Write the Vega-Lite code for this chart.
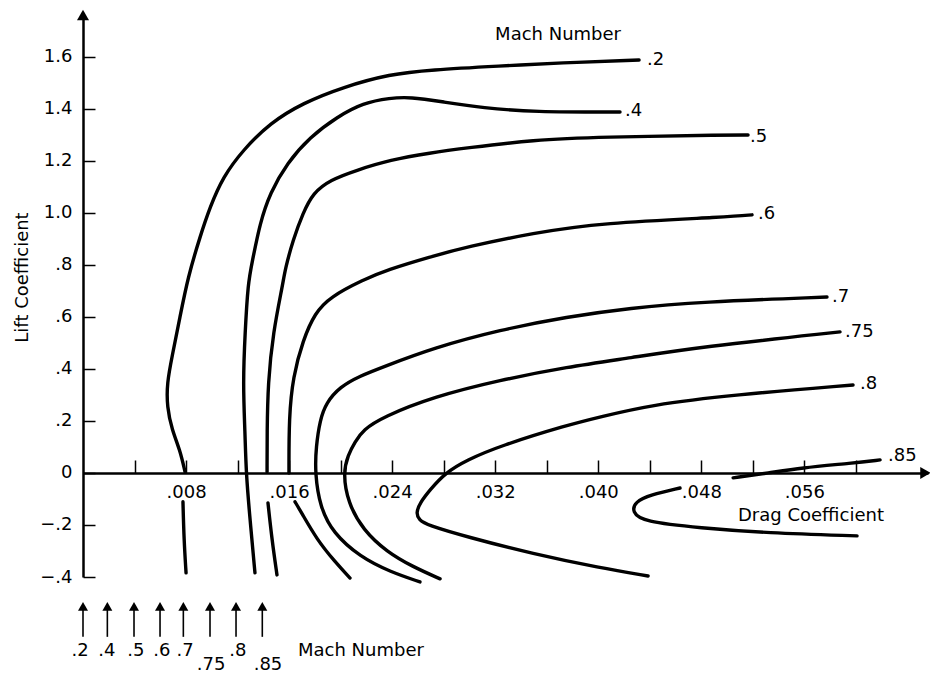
{
  "$schema": "https://vega.github.io/schema/vega-lite/v6.json",
  "width": 845,
  "height": 562,
  "autosize": {"type": "none"},
  "padding": {"left": 83, "top": 15, "right": 2, "bottom": 100},
  "background": "white",
  "config": {
    "view": {"stroke": null},
    "axis": {
      "grid": false,
      "domainColor": "black",
      "domainWidth": 2.5,
      "tickColor": "black",
      "tickWidth": 1.5,
      "labelColor": "black",
      "labelFont": "DejaVu Sans",
      "labelFontSize": 18,
      "labelOverlap": false,
      "labelFlush": false,
      "labelBound": false
    }
  },
  "datasets": {
    "curves": [
      {"curve": "0.2 upper", "i": 0, "drag": 0.00792, "lift": 0.004},
      {"curve": "0.2 upper", "i": 1, "drag": 0.00753, "lift": 0.088},
      {"curve": "0.2 upper", "i": 2, "drag": 0.00691, "lift": 0.165},
      {"curve": "0.2 upper", "i": 3, "drag": 0.00652, "lift": 0.254},
      {"curve": "0.2 upper", "i": 4, "drag": 0.00652, "lift": 0.346},
      {"curve": "0.2 upper", "i": 5, "drag": 0.00691, "lift": 0.446},
      {"curve": "0.2 upper", "i": 6, "drag": 0.00753, "lift": 0.600},
      {"curve": "0.2 upper", "i": 7, "drag": 0.00815, "lift": 0.753},
      {"curve": "0.2 upper", "i": 8, "drag": 0.00908, "lift": 0.907},
      {"curve": "0.2 upper", "i": 9, "drag": 0.00986, "lift": 1.022},
      {"curve": "0.2 upper", "i": 10, "drag": 0.01087, "lift": 1.138},
      {"curve": "0.2 upper", "i": 11, "drag": 0.01242, "lift": 1.241},
      {"curve": "0.2 upper", "i": 12, "drag": 0.01452, "lift": 1.345},
      {"curve": "0.2 upper", "i": 13, "drag": 0.01708, "lift": 1.422},
      {"curve": "0.2 upper", "i": 14, "drag": 0.02019, "lift": 1.483},
      {"curve": "0.2 upper", "i": 15, "drag": 0.02384, "lift": 1.533},
      {"curve": "0.2 upper", "i": 16, "drag": 0.02694, "lift": 1.549},
      {"curve": "0.2 upper", "i": 17, "drag": 0.03238, "lift": 1.564},
      {"curve": "0.2 upper", "i": 18, "drag": 0.03703, "lift": 1.576},
      {"curve": "0.2 upper", "i": 19, "drag": 0.04317, "lift": 1.587},
      {"curve": "0.2 lower", "i": 0, "drag": 0.00776, "lift": -0.111},
      {"curve": "0.2 lower", "i": 1, "drag": 0.00784, "lift": -0.257},
      {"curve": "0.2 lower", "i": 2, "drag": 0.00800, "lift": -0.384},

      {"curve": "0.4", "i": 0, "drag": 0.01335, "lift": -0.384},
      {"curve": "0.4", "i": 1, "drag": 0.01297, "lift": -0.181},
      {"curve": "0.4", "i": 2, "drag": 0.01266, "lift": 0.0},
      {"curve": "0.4", "i": 3, "drag": 0.01258, "lift": 0.154},
      {"curve": "0.4", "i": 4, "drag": 0.01242, "lift": 0.346},
      {"curve": "0.4", "i": 5, "drag": 0.01258, "lift": 0.538},
      {"curve": "0.4", "i": 6, "drag": 0.01281, "lift": 0.730},
      {"curve": "0.4", "i": 7, "drag": 0.01312, "lift": 0.807},
      {"curve": "0.4", "i": 8, "drag": 0.01374, "lift": 0.961},
      {"curve": "0.4", "i": 9, "drag": 0.01452, "lift": 1.076},
      {"curve": "0.4", "i": 10, "drag": 0.01584, "lift": 1.191},
      {"curve": "0.4", "i": 11, "drag": 0.01762, "lift": 1.291},
      {"curve": "0.4", "i": 12, "drag": 0.01972, "lift": 1.368},
      {"curve": "0.4", "i": 13, "drag": 0.02174, "lift": 1.422},
      {"curve": "0.4", "i": 14, "drag": 0.02384, "lift": 1.441},
      {"curve": "0.4", "i": 15, "drag": 0.02539, "lift": 1.445},
      {"curve": "0.4", "i": 16, "drag": 0.02795, "lift": 1.426},
      {"curve": "0.4", "i": 17, "drag": 0.03106, "lift": 1.403},
      {"curve": "0.4", "i": 18, "drag": 0.03494, "lift": 1.387},
      {"curve": "0.4", "i": 19, "drag": 0.04169, "lift": 1.387},

      {"curve": "0.5 upper", "i": 0, "drag": 0.01429, "lift": 0.004},
      {"curve": "0.5 upper", "i": 1, "drag": 0.01429, "lift": 0.154},
      {"curve": "0.5 upper", "i": 2, "drag": 0.01436, "lift": 0.346},
      {"curve": "0.5 upper", "i": 3, "drag": 0.01475, "lift": 0.538},
      {"curve": "0.5 upper", "i": 4, "drag": 0.01553, "lift": 0.730},
      {"curve": "0.5 upper", "i": 5, "drag": 0.01568, "lift": 0.780},
      {"curve": "0.5 upper", "i": 6, "drag": 0.01630, "lift": 0.895},
      {"curve": "0.5 upper", "i": 7, "drag": 0.01708, "lift": 0.999},
      {"curve": "0.5 upper", "i": 8, "drag": 0.01786, "lift": 1.076},
      {"curve": "0.5 upper", "i": 9, "drag": 0.01918, "lift": 1.126},
      {"curve": "0.5 upper", "i": 10, "drag": 0.02127, "lift": 1.164},
      {"curve": "0.5 upper", "i": 11, "drag": 0.02384, "lift": 1.203},
      {"curve": "0.5 upper", "i": 12, "drag": 0.02694, "lift": 1.230},
      {"curve": "0.5 upper", "i": 13, "drag": 0.02981, "lift": 1.249},
      {"curve": "0.5 upper", "i": 14, "drag": 0.03494, "lift": 1.280},
      {"curve": "0.5 upper", "i": 15, "drag": 0.04014, "lift": 1.291},
      {"curve": "0.5 upper", "i": 16, "drag": 0.05023, "lift": 1.299},
      {"curve": "0.5 upper", "i": 17, "drag": 0.05163, "lift": 1.299},
      {"curve": "0.5 lower", "i": 0, "drag": 0.01436, "lift": -0.115},
      {"curve": "0.5 lower", "i": 1, "drag": 0.01467, "lift": -0.257},
      {"curve": "0.5 lower", "i": 2, "drag": 0.01506, "lift": -0.392},

      {"curve": "0.6 upper", "i": 0, "drag": 0.01599, "lift": 0.0},
      {"curve": "0.6 upper", "i": 1, "drag": 0.01599, "lift": 0.215},
      {"curve": "0.6 upper", "i": 2, "drag": 0.01630, "lift": 0.369},
      {"curve": "0.6 upper", "i": 3, "drag": 0.01708, "lift": 0.511},
      {"curve": "0.6 upper", "i": 4, "drag": 0.01801, "lift": 0.615},
      {"curve": "0.6 upper", "i": 5, "drag": 0.01918, "lift": 0.676},
      {"curve": "0.6 upper", "i": 6, "drag": 0.02174, "lift": 0.742},
      {"curve": "0.6 upper", "i": 7, "drag": 0.02360, "lift": 0.780},
      {"curve": "0.6 upper", "i": 8, "drag": 0.02694, "lift": 0.830},
      {"curve": "0.6 upper", "i": 9, "drag": 0.02981, "lift": 0.869},
      {"curve": "0.6 upper", "i": 10, "drag": 0.03494, "lift": 0.922},
      {"curve": "0.6 upper", "i": 11, "drag": 0.04014, "lift": 0.961},
      {"curve": "0.6 upper", "i": 12, "drag": 0.05023, "lift": 0.984},
      {"curve": "0.6 upper", "i": 13, "drag": 0.05194, "lift": 0.992},
      {"curve": "0.6 lower", "i": 0, "drag": 0.01646, "lift": -0.111},
      {"curve": "0.6 lower", "i": 1, "drag": 0.01693, "lift": -0.150},
      {"curve": "0.6 lower", "i": 2, "drag": 0.01817, "lift": -0.257},
      {"curve": "0.6 lower", "i": 3, "drag": 0.01957, "lift": -0.342},
      {"curve": "0.6 lower", "i": 4, "drag": 0.02073, "lift": -0.404},

      {"curve": "0.7", "i": 0, "drag": 0.02616, "lift": -0.419},
      {"curve": "0.7", "i": 1, "drag": 0.02384, "lift": -0.380},
      {"curve": "0.7", "i": 2, "drag": 0.02151, "lift": -0.323},
      {"curve": "0.7", "i": 3, "drag": 0.01941, "lift": -0.231},
      {"curve": "0.7", "i": 4, "drag": 0.01840, "lift": -0.131},
      {"curve": "0.7", "i": 5, "drag": 0.01801, "lift": 0.0},
      {"curve": "0.7", "i": 6, "drag": 0.01809, "lift": 0.100},
      {"curve": "0.7", "i": 7, "drag": 0.01840, "lift": 0.204},
      {"curve": "0.7", "i": 8, "drag": 0.01887, "lift": 0.269},
      {"curve": "0.7", "i": 9, "drag": 0.01995, "lift": 0.331},
      {"curve": "0.7", "i": 10, "drag": 0.02151, "lift": 0.373},
      {"curve": "0.7", "i": 11, "drag": 0.02329, "lift": 0.407},
      {"curve": "0.7", "i": 12, "drag": 0.02717, "lift": 0.480},
      {"curve": "0.7", "i": 13, "drag": 0.03238, "lift": 0.550},
      {"curve": "0.7", "i": 14, "drag": 0.03758, "lift": 0.600},
      {"curve": "0.7", "i": 15, "drag": 0.04247, "lift": 0.634},
      {"curve": "0.7", "i": 16, "drag": 0.04790, "lift": 0.657},
      {"curve": "0.7", "i": 17, "drag": 0.05776, "lift": 0.676},

      {"curve": "0.75", "i": 0, "drag": 0.02772, "lift": -0.407},
      {"curve": "0.75", "i": 1, "drag": 0.02562, "lift": -0.361},
      {"curve": "0.75", "i": 2, "drag": 0.02360, "lift": -0.304},
      {"curve": "0.75", "i": 3, "drag": 0.02174, "lift": -0.219},
      {"curve": "0.75", "i": 4, "drag": 0.02057, "lift": -0.115},
      {"curve": "0.75", "i": 5, "drag": 0.02019, "lift": 0.0},
      {"curve": "0.75", "i": 6, "drag": 0.02057, "lift": 0.069},
      {"curve": "0.75", "i": 7, "drag": 0.02112, "lift": 0.119},
      {"curve": "0.75", "i": 8, "drag": 0.02174, "lift": 0.165},
      {"curve": "0.75", "i": 9, "drag": 0.02329, "lift": 0.215},
      {"curve": "0.75", "i": 10, "drag": 0.02717, "lift": 0.292},
      {"curve": "0.75", "i": 11, "drag": 0.03238, "lift": 0.357},
      {"curve": "0.75", "i": 12, "drag": 0.03758, "lift": 0.407},
      {"curve": "0.75", "i": 13, "drag": 0.04247, "lift": 0.442},
      {"curve": "0.75", "i": 14, "drag": 0.04790, "lift": 0.484},
      {"curve": "0.75", "i": 15, "drag": 0.05877, "lift": 0.542},

      {"curve": "0.8", "i": 0, "drag": 0.05978, "lift": 0.338},
      {"curve": "0.8", "i": 1, "drag": 0.05047, "lift": 0.300},
      {"curve": "0.8", "i": 2, "drag": 0.04402, "lift": 0.261},
      {"curve": "0.8", "i": 3, "drag": 0.04014, "lift": 0.215},
      {"curve": "0.8", "i": 4, "drag": 0.03758, "lift": 0.184},
      {"curve": "0.8", "i": 5, "drag": 0.03238, "lift": 0.104},
      {"curve": "0.8", "i": 6, "drag": 0.02981, "lift": 0.050},
      {"curve": "0.8", "i": 7, "drag": 0.02811, "lift": 0.0},
      {"curve": "0.8", "i": 8, "drag": 0.02694, "lift": -0.065},
      {"curve": "0.8", "i": 9, "drag": 0.02616, "lift": -0.115},
      {"curve": "0.8", "i": 10, "drag": 0.02585, "lift": -0.154},
      {"curve": "0.8", "i": 11, "drag": 0.02609, "lift": -0.181},
      {"curve": "0.8", "i": 12, "drag": 0.02671, "lift": -0.200},
      {"curve": "0.8", "i": 13, "drag": 0.02981, "lift": -0.246},
      {"curve": "0.8", "i": 14, "drag": 0.03494, "lift": -0.311},
      {"curve": "0.8", "i": 15, "drag": 0.04014, "lift": -0.365},
      {"curve": "0.8", "i": 16, "drag": 0.04387, "lift": -0.396},

      {"curve": "0.85 upper", "i": 0, "drag": 0.05047, "lift": -0.019},
      {"curve": "0.85 upper", "i": 1, "drag": 0.05326, "lift": 0.0},
      {"curve": "0.85 upper", "i": 2, "drag": 0.05567, "lift": 0.019},
      {"curve": "0.85 upper", "i": 3, "drag": 0.05978, "lift": 0.038},
      {"curve": "0.85 upper", "i": 4, "drag": 0.06188, "lift": 0.050},
      {"curve": "0.85 lower", "i": 0, "drag": 0.04635, "lift": -0.058},
      {"curve": "0.85 lower", "i": 1, "drag": 0.04402, "lift": -0.085},
      {"curve": "0.85 lower", "i": 2, "drag": 0.04286, "lift": -0.111},
      {"curve": "0.85 lower", "i": 3, "drag": 0.04262, "lift": -0.150},
      {"curve": "0.85 lower", "i": 4, "drag": 0.04348, "lift": -0.188},
      {"curve": "0.85 lower", "i": 5, "drag": 0.04790, "lift": -0.211},
      {"curve": "0.85 lower", "i": 6, "drag": 0.05311, "lift": -0.231},
      {"curve": "0.85 lower", "i": 7, "drag": 0.06009, "lift": -0.242}
    ],
    "leftLabels": [
      {"text": ".2", "drag": 0.04379, "lift": 1.587},
      {"text": ".4", "drag": 0.04208, "lift": 1.391},
      {"text": ".5", "drag": 0.05179, "lift": 1.291},
      {"text": ".6", "drag": 0.05241, "lift": 0.995},
      {"text": ".7", "drag": 0.05815, "lift": 0.676},
      {"text": ".75", "drag": 0.05916, "lift": 0.542},
      {"text": ".8", "drag": 0.06033, "lift": 0.342},
      {"text": ".85", "drag": 0.06250, "lift": 0.065},
      {"text": "Drag Coefficient", "drag": 0.05085, "lift": -0.167},
      {"text": "Mach Number", "drag": 0.01669, "lift": -0.684}
    ],
    "centerLabels": [
      {"text": "Mach Number", "drag": 0.03688, "lift": 1.685},
      {"text": ".2", "drag": -0.00023, "lift": -0.684},
      {"text": ".4", "drag": 0.00186, "lift": -0.684},
      {"text": ".5", "drag": 0.00411, "lift": -0.684},
      {"text": ".6", "drag": 0.00613, "lift": -0.684},
      {"text": ".7", "drag": 0.00792, "lift": -0.684},
      {"text": ".75", "drag": 0.00994, "lift": -0.738},
      {"text": ".8", "drag": 0.01203, "lift": -0.684},
      {"text": ".85", "drag": 0.01436, "lift": -0.738}
    ],
    "machArrows": [
      {"mach": 0.2, "drag": 0.0, "lift": -0.513, "lift2": -0.630},
      {"mach": 0.4, "drag": 0.00189, "lift": -0.513, "lift2": -0.630},
      {"mach": 0.5, "drag": 0.00396, "lift": -0.513, "lift2": -0.630},
      {"mach": 0.6, "drag": 0.00598, "lift": -0.513, "lift2": -0.630},
      {"mach": 0.7, "drag": 0.00779, "lift": -0.513, "lift2": -0.630},
      {"mach": 0.75, "drag": 0.00986, "lift": -0.513, "lift2": -0.630},
      {"mach": 0.8, "drag": 0.01188, "lift": -0.513, "lift2": -0.630},
      {"mach": 0.85, "drag": 0.01392, "lift": -0.513, "lift2": -0.630}
    ],
    "yAxisEnd": [{"drag": 0.0, "lift": 1.76}],
    "xAxisEnd": [{"drag": 0.0654, "lift": 0.0}]
  },
  "encoding": {
    "x": {
      "field": "drag",
      "type": "quantitative",
      "scale": {"domain": [0, 0.0656], "nice": false, "zero": false},
      "axis": {
        "orient": "bottom",
        "offset": -104,
        "title": null,
        "values": [0.004, 0.008, 0.012, 0.016, 0.020, 0.024, 0.028, 0.032, 0.036, 0.040, 0.044, 0.048, 0.052, 0.056, 0.060],
        "labelExpr": "round(datum.value * 1000) % 8 == 0 ? replace(format(datum.value, '.3f'), '0.', '.') : ''",
        "tickSize": -13,
        "labelPadding": 23
      }
    },
    "y": {
      "field": "lift",
      "type": "quantitative",
      "scale": {"domain": [-0.4, 1.76], "nice": false, "zero": false},
      "axis": {
        "orient": "left",
        "values": [-0.4, -0.2, 0, 0.2, 0.4, 0.6, 0.8, 1.0, 1.2, 1.4, 1.6],
        "labelExpr": "datum.value == 0 ? '0' : replace(replace(format(datum.value, '.1f'), '0.', '.'), '-', '–')",
        "tickSize": -12,
        "labelPadding": 23,
        "title": "Lift Coefficient",
        "titleX": -61,
        "titleY": 262,
        "titleAngle": -90,
        "titleAlign": "center",
        "titleBaseline": "middle",
        "titleFont": "DejaVu Sans",
        "titleFontSize": 18,
        "titleFontWeight": "normal",
        "titleColor": "black"
      }
    }
  },
  "layer": [
    {
      "data": {"name": "curves"},
      "mark": {"type": "line", "interpolate": "basis", "color": "black", "strokeWidth": 3.4, "strokeCap": "round", "clip": false},
      "encoding": {
        "detail": {"field": "curve", "type": "nominal"},
        "order": {"field": "i", "type": "quantitative"}
      }
    },
    {
      "data": {"name": "machArrows"},
      "mark": {"type": "rule", "color": "black", "strokeWidth": 1.6},
      "encoding": {"y2": {"field": "lift2"}}
    },
    {
      "data": {"name": "machArrows"},
      "mark": {"type": "point", "shape": "triangle-up", "filled": true, "color": "black", "opacity": 1, "size": 100},
      "encoding": {}
    },
    {
      "data": {"name": "yAxisEnd"},
      "mark": {"type": "point", "shape": "triangle-up", "filled": true, "color": "black", "opacity": 1, "size": 144},
      "encoding": {}
    },
    {
      "data": {"name": "xAxisEnd"},
      "mark": {"type": "point", "shape": "triangle-right", "filled": true, "color": "black", "opacity": 1, "size": 144},
      "encoding": {}
    },
    {
      "data": {"name": "leftLabels"},
      "mark": {"type": "text", "align": "left", "baseline": "middle", "font": "DejaVu Sans", "fontSize": 18, "color": "black"},
      "encoding": {"text": {"field": "text"}}
    },
    {
      "data": {"name": "centerLabels"},
      "mark": {"type": "text", "align": "center", "baseline": "middle", "font": "DejaVu Sans", "fontSize": 18, "color": "black"},
      "encoding": {"text": {"field": "text"}}
    }
  ]
}
